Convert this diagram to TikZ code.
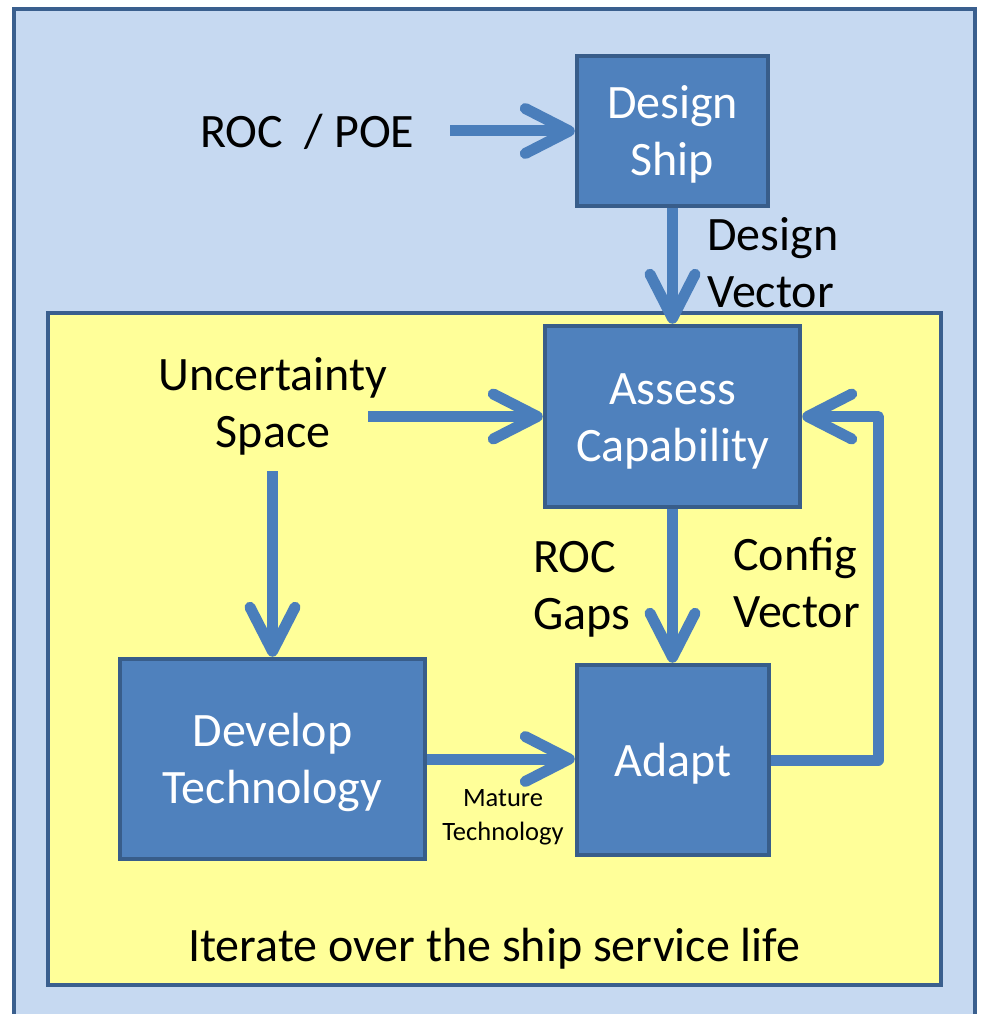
\documentclass[tikz,border=0pt]{standalone}
\usepackage{fontspec}
\setmainfont{Carlito}
\usetikzlibrary{arrows.meta}

\definecolor{panelblue}{HTML}{C6D9F1}
\definecolor{paneledge}{HTML}{3A5F8E}
\definecolor{loopyellow}{HTML}{FFFF99}
\definecolor{boxfill}{HTML}{4F81BD}
\definecolor{boxedge}{HTML}{385D8A}
\definecolor{flowblue}{HTML}{4A7EBB}

\tikzset{
  bigtext/.style={font=\fontsize{48}{57}\selectfont},
  smalltext/.style={font=\fontsize{26.5}{34}\selectfont},
  stepbox/.style={draw=boxedge, fill=boxfill, line width=4.5pt, text=white,
    bigtext, align=center, inner sep=0pt, text depth=4pt},
  oneline/.style={stepbox, text height=36pt},
  twoline/.style={stepbox, text height=93pt},
  lbl/.style={bigtext, inner sep=0pt, text=black},
  flow/.style={draw=flowblue, line width=11pt, line join=round,
    -{Straight Barb[length=44pt, width=45pt, round]}},
}

\begin{document}
\begin{tikzpicture}[x=1pt, y=-1pt]
\useasboundingbox (0,0) rectangle (980,1014);

% outer panel and the yellow iteration panel
\draw[fill=panelblue, draw=paneledge, line width=4.5pt] (14,9) rectangle (975,1040);
\draw[fill=loopyellow, draw=paneledge, line width=4.5pt] (48,313) rectangle (941,985);

% process boxes
\node[twoline, minimum width=191pt, minimum height=150pt] (ds) at (672.5,131) {Design\\Ship};
\node[twoline, minimum width=255pt, minimum height=181pt] (ac) at (672.5,416.5) {Assess\\Capability};
\node[twoline, minimum width=305pt, minimum height=200pt] (dt) at (272.5,759) {Develop\\Technology};
\node[oneline, minimum width=192pt, minimum height=190pt] (ad) at (673,760) {Adapt};

% labels (a multi-line node sits on the baseline of its last line)
\node[lbl, anchor=base west] (rocpoe) at (200,147) {ROC\ \ / POE};
\node[lbl, anchor=base west, align=left] (dvec) at (707,307) {Design\\Vector};
\node[lbl, anchor=base, align=center] (unc) at (273,447) {Uncertainty\\Space};
\node[lbl, anchor=base west, align=left] (gaps) at (533,629) {ROC\\Gaps};
\node[lbl, anchor=base west, align=left] (cvec) at (733,627) {Config\\Vector};
\node[lbl, smalltext, anchor=base, align=center] (mat) at (503,840) {Mature\\Technology};
\node[lbl, anchor=base west] (iter) at (188,961) {Iterate over the ship service life};

% free ends of the input arrows
\coordinate (rocstart) at (450,131);
\coordinate (uncright) at (368,416.5);
\coordinate (uncdown) at (272.5,471);
\coordinate (loopx) at (878,0);

% connectors
\draw[flow] (rocstart) -- (ds.west);
\draw[flow] (ds.south) -- (ac.north);
\draw[flow] (uncright) -- (ac.west);
\draw[flow] (uncdown) -- (dt.north);
\draw[flow] (ac.south) -- (ac.south |- ad.north);
\draw[flow] (dt.east) -- (dt.east -| ad.west);
\draw[flow] (ad.east) -- (ad.east -| loopx) |- (ac.east);
\end{tikzpicture}
\end{document}
